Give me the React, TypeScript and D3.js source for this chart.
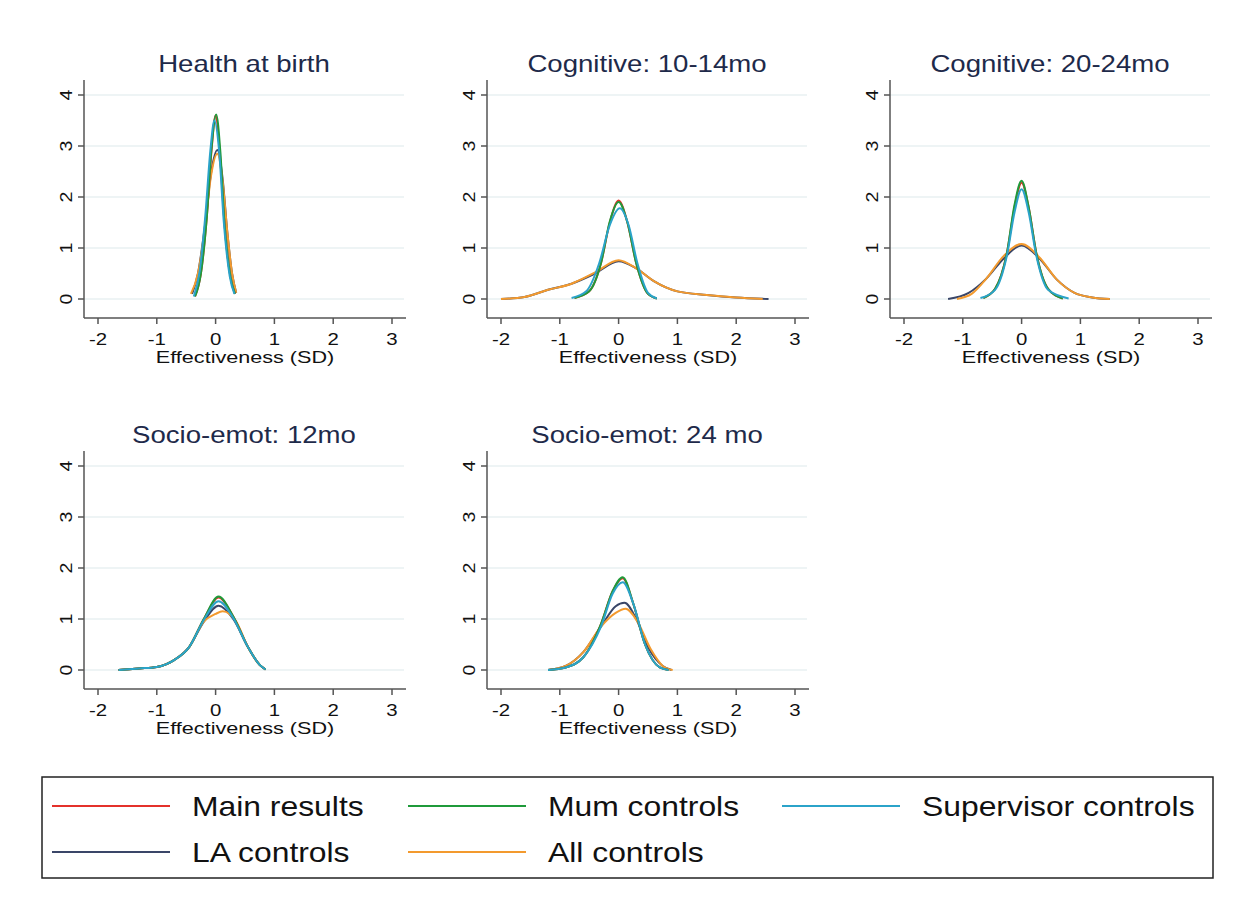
import React from "react";
import * as d3 from "d3";

type Pt = [number, number];

const panelTitles = ["Health at birth", "Cognitive: 10-14mo", "Cognitive: 20-24mo", "Socio-emot: 12mo", "Socio-emot: 24 mo"];
const seriesNames = ["Main results", "Mum controls", "Supervisor controls", "LA controls", "All controls"];
const seriesColors = ["#e4312b", "#1f9a3a", "#2ba3c9", "#3a4668", "#f39a2e"];
const xTicks = [-2, -1, 0, 1, 2, 3];
const yTicks = [0, 1, 2, 3, 4];

// density curves per panel, per series (main, mum, supervisor, LA, all)
const health: Pt[][] = [
  [[-0.35, 0.05], [-0.25, 0.5], [-0.15, 1.6], [-0.07, 2.9], [0, 3.6], [0.07, 2.9], [0.15, 1.5], [0.25, 0.45], [0.33, 0.1]],
  [[-0.35, 0.05], [-0.25, 0.5], [-0.15, 1.6], [-0.07, 2.95], [0.01, 3.62], [0.08, 2.9], [0.15, 1.5], [0.25, 0.45], [0.33, 0.1]],
  [[-0.37, 0.05], [-0.27, 0.55], [-0.17, 1.7], [-0.09, 2.9], [-0.02, 3.5], [0.06, 2.9], [0.14, 1.5], [0.24, 0.45], [0.32, 0.1]],
  [[-0.4, 0.1], [-0.3, 0.5], [-0.18, 1.45], [-0.08, 2.45], [0.03, 2.92], [0.12, 2.35], [0.2, 1.3], [0.28, 0.5], [0.35, 0.12]],
  [[-0.42, 0.1], [-0.3, 0.5], [-0.18, 1.4], [-0.08, 2.4], [0.03, 2.85], [0.12, 2.3], [0.2, 1.3], [0.28, 0.5], [0.35, 0.12]],
];
const cog1014: Pt[][] = [
  [[-0.75, 0.02], [-0.5, 0.15], [-0.3, 0.7], [-0.15, 1.5], [0, 1.93], [0.15, 1.5], [0.3, 0.7], [0.5, 0.1], [0.65, 0.01]],
  [[-0.75, 0.02], [-0.5, 0.15], [-0.3, 0.7], [-0.15, 1.52], [0, 1.9], [0.15, 1.5], [0.3, 0.7], [0.5, 0.1], [0.65, 0.01]],
  [[-0.8, 0.02], [-0.55, 0.15], [-0.33, 0.7], [-0.15, 1.45], [0.02, 1.78], [0.17, 1.45], [0.32, 0.7], [0.5, 0.12], [0.65, 0.01]],
  [[-2, 0], [-1.6, 0.04], [-1.2, 0.18], [-0.8, 0.3], [-0.4, 0.5], [0, 0.74], [0.3, 0.6], [0.6, 0.35], [1, 0.15], [1.5, 0.08], [2, 0.03], [2.55, 0]],
  [[-2, 0], [-1.6, 0.04], [-1.2, 0.18], [-0.8, 0.3], [-0.4, 0.52], [0, 0.76], [0.3, 0.6], [0.6, 0.35], [1, 0.15], [1.5, 0.08], [2, 0.03], [2.45, 0]],
];
const cog2024: Pt[][] = [
  [[-0.65, 0.02], [-0.45, 0.2], [-0.25, 0.9], [-0.12, 1.8], [0, 2.28], [0.12, 1.8], [0.25, 0.9], [0.45, 0.2], [0.7, 0.01]],
  [[-0.65, 0.02], [-0.45, 0.2], [-0.25, 0.9], [-0.12, 1.85], [0, 2.32], [0.12, 1.8], [0.25, 0.9], [0.45, 0.2], [0.7, 0.01]],
  [[-0.7, 0.02], [-0.45, 0.18], [-0.25, 0.85], [-0.12, 1.7], [0, 2.15], [0.12, 1.7], [0.25, 0.85], [0.45, 0.18], [0.8, 0.01]],
  [[-1.25, 0], [-0.9, 0.12], [-0.6, 0.4], [-0.3, 0.8], [0, 1.05], [0.3, 0.8], [0.6, 0.38], [0.9, 0.12], [1.2, 0.03], [1.5, 0]],
  [[-1.1, 0], [-0.85, 0.1], [-0.6, 0.4], [-0.3, 0.85], [0, 1.08], [0.3, 0.82], [0.6, 0.38], [0.9, 0.12], [1.2, 0.03], [1.5, 0]],
];
const se12: Pt[][] = [
  [[-1.65, 0], [-1.3, 0.03], [-1, 0.06], [-0.7, 0.2], [-0.45, 0.45], [-0.2, 1.0], [0.05, 1.42], [0.3, 1.05], [0.55, 0.45], [0.75, 0.1], [0.85, 0.01]],
  [[-1.65, 0], [-1.3, 0.03], [-1, 0.06], [-0.7, 0.2], [-0.45, 0.45], [-0.2, 1.0], [0.05, 1.44], [0.3, 1.05], [0.55, 0.45], [0.75, 0.1], [0.85, 0.01]],
  [[-1.65, 0], [-1.3, 0.03], [-1, 0.06], [-0.7, 0.2], [-0.45, 0.45], [-0.2, 0.98], [0.05, 1.35], [0.3, 1.02], [0.55, 0.45], [0.75, 0.1], [0.85, 0.01]],
  [[-1.65, 0], [-1.3, 0.03], [-1, 0.06], [-0.7, 0.2], [-0.45, 0.45], [-0.2, 0.95], [0.05, 1.26], [0.3, 1.0], [0.55, 0.45], [0.75, 0.1], [0.85, 0.01]],
  [[-1.65, 0], [-1.3, 0.03], [-1, 0.06], [-0.7, 0.2], [-0.45, 0.45], [-0.2, 0.95], [0, 1.1], [0.12, 1.15], [0.35, 0.95], [0.55, 0.45], [0.75, 0.1], [0.85, 0.01]],
];
const se24: Pt[][] = [
  [[-1.2, 0], [-0.9, 0.05], [-0.6, 0.25], [-0.3, 0.9], [-0.1, 1.55], [0.07, 1.8], [0.25, 1.3], [0.45, 0.5], [0.7, 0.05], [0.85, 0]],
  [[-1.2, 0], [-0.9, 0.05], [-0.6, 0.25], [-0.3, 0.9], [-0.1, 1.55], [0.07, 1.82], [0.25, 1.3], [0.45, 0.5], [0.7, 0.05], [0.85, 0]],
  [[-1.2, 0], [-0.9, 0.05], [-0.6, 0.25], [-0.3, 0.85], [-0.1, 1.5], [0.07, 1.72], [0.25, 1.3], [0.45, 0.5], [0.7, 0.05], [0.85, 0]],
  [[-1.2, 0], [-0.9, 0.08], [-0.6, 0.35], [-0.3, 0.85], [-0.05, 1.25], [0.1, 1.32], [0.3, 1.0], [0.5, 0.45], [0.75, 0.08], [0.9, 0]],
  [[-1.2, 0], [-0.9, 0.08], [-0.6, 0.35], [-0.3, 0.85], [-0.05, 1.12], [0.12, 1.2], [0.32, 0.95], [0.55, 0.4], [0.75, 0.08], [0.92, 0]],
];
const panelData = [health, cog1014, cog2024, se12, se24];
const drawOrder = [3, 4, 0, 1, 2];

const panelOrigins: Pt[] = [[84, 80], [487, 80], [890, 80], [84, 451], [487, 451]];
const font = "'Liberation Sans', Arial, sans-serif";

// horizontally stretched text, like the reference's rendering
function T({ x, y, size, sx, anchor = "middle", fill = "#111", rot = 0, children }: any) {
  return (
    <text
      transform={`translate(${x},${y}) rotate(${rot}) scale(${sx},1)`}
      textAnchor={anchor}
      fontSize={size}
      fill={fill}
      fontFamily={font}
    >
      {children}
    </text>
  );
}

function Panel({ idx }: { idx: number }) {
  const [ox, oy] = panelOrigins[idx];
  const x = d3.scaleLinear().domain([-2, 3]).range([ox + 14, ox + 308]);
  const y = d3.scaleLinear().domain([0, 4]).range([oy + 219, oy + 15]);
  const line = d3.line<Pt>().x((d) => x(d[0])).y((d) => y(d[1])).curve(d3.curveMonotoneX);
  const axisY = oy + 238;
  const cx = (ox + 14 + ox + 308) / 2;
  return (
    <g>
      <T x={cx - 1} y={oy - 8} size={23} sx={1.2} fill="#1e2a4a">{panelTitles[idx]}</T>
      {yTicks.map((t) => (
        <g key={t}>
          <line x1={ox} x2={ox + 320} y1={y(t)} y2={y(t)} stroke="#e8f0f2" strokeWidth={1.5} />
          <line x1={ox - 6} x2={ox} y1={y(t)} y2={y(t)} stroke="#555" strokeWidth={1.5} />
          <T x={ox - 12} y={y(t)} size={17} sx={1.15} rot={-90}>{t}</T>
        </g>
      ))}
      <line x1={ox} x2={ox} y1={oy} y2={axisY} stroke="#555" strokeWidth={1.5} />
      <line x1={ox} x2={ox + 322} y1={axisY} y2={axisY} stroke="#555" strokeWidth={1.5} />
      {xTicks.map((t) => (
        <g key={t}>
          <line x1={x(t)} x2={x(t)} y1={axisY} y2={axisY + 6} stroke="#555" strokeWidth={1.5} />
          <T x={x(t)} y={axisY + 27} size={17} sx={1.2}>{t}</T>
        </g>
      ))}
      <T x={cx} y={axisY + 45} size={17} sx={1.27}>Effectiveness (SD)</T>
      {drawOrder.map((s) => (
        <path key={s} d={line(panelData[idx][s]) || ""} fill="none" stroke={seriesColors[s]} strokeWidth={2} />
      ))}
    </g>
  );
}

const legendPos: Pt[] = [[52, 806], [408, 806], [782, 806], [52, 852], [408, 852]];

export default function App() {
  return (
    <svg width={1249} height={906} style={{ display: "block", margin: -8, background: "#fff" }}>
      <rect x={0} y={0} width={1249} height={906} fill="#fff" />
      {panelTitles.map((_, i) => (
        <Panel key={i} idx={i} />
      ))}
      <rect x={42} y={777} width={1171} height={101} fill="#fff" stroke="#222" strokeWidth={1.5} />
      {seriesNames.map((n, i) => (
        <g key={n}>
          <line x1={legendPos[i][0]} x2={legendPos[i][0] + 118} y1={legendPos[i][1]} y2={legendPos[i][1]} stroke={seriesColors[i]} strokeWidth={2} />
          <T x={legendPos[i][0] + 140} y={legendPos[i][1] + 10} size={27} sx={1.18} anchor="start">{n}</T>
        </g>
      ))}
    </svg>
  );
}
